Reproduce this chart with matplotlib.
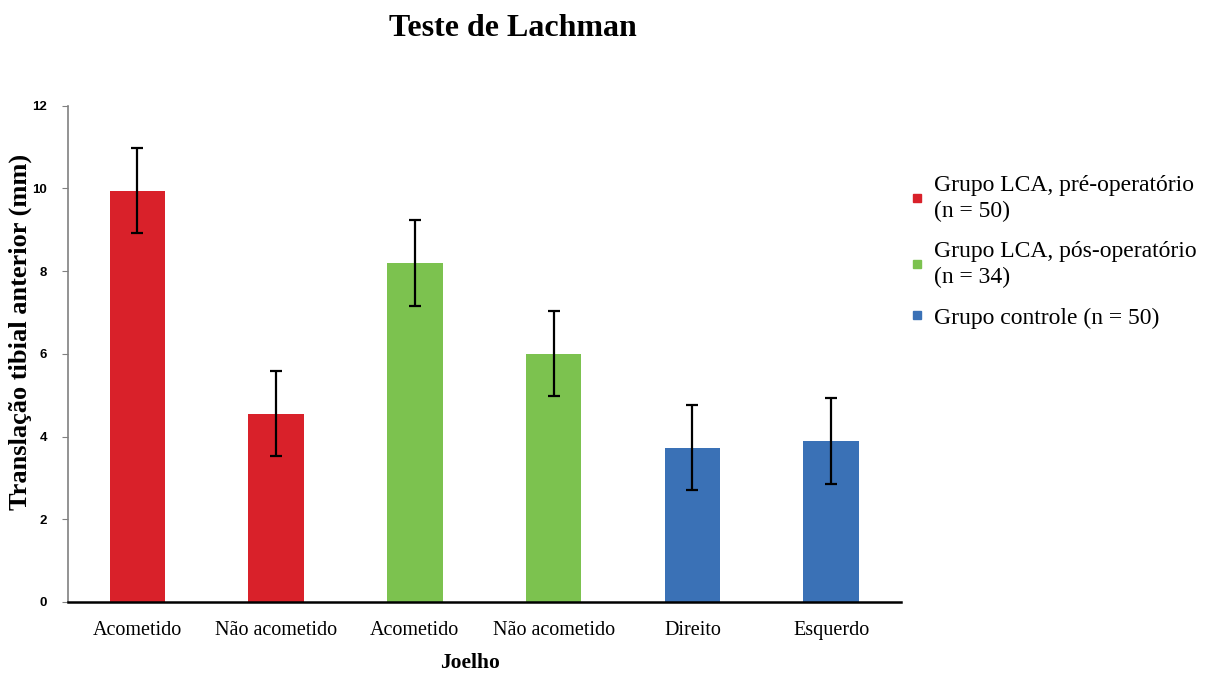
import matplotlib
matplotlib.use("Agg")
import matplotlib.pyplot as plt
from matplotlib.lines import Line2D

categories = ["Acometido", "Não acometido", "Acometido", "Não acometido", "Direito", "Esquerdo"]
values = [9.95, 4.55, 8.2, 6.0, 3.73, 3.9]
errors = [1.03, 1.03, 1.04, 1.03, 1.03, 1.04]
groups = ["Grupo LCA, pré-operatório\n(n = 50)",
          "Grupo LCA, pós-operatório\n(n = 34)",
          "Grupo controle (n = 50)"]
group_of_bar = [0, 0, 1, 1, 2, 2]
colors = ["#d9212a", "#7cc24f", "#3a71b6"]

serif = "Liberation Serif"

fig = plt.figure(figsize=(12.05, 6.74), dpi=100)
ax = fig.add_axes([0.0564, 0.107, 0.691, 0.736])

x = range(len(categories))
bar_colors = [colors[g] for g in group_of_bar]
ax.bar(x, values, width=0.4, color=bar_colors, zorder=2)
ax.errorbar(x, values, yerr=errors, fmt="none", ecolor="black",
            elinewidth=1.6, capsize=4, capthick=1.6, zorder=3)

ax.set_xlim(-0.5, 5.5)
ax.set_ylim(0, 12)
ax.set_yticks(range(0, 13, 2))
ax.set_xticks(list(x))
ax.set_xticklabels(categories, fontsize=14.5, family=serif)
ax.tick_params(axis="x", length=0, pad=14)
ax.tick_params(axis="y", length=4, color="#808080", pad=11)
for lab in ax.get_yticklabels():
    lab.set_fontweight("bold")
    lab.set_fontsize(9.5)
    lab.set_family("Liberation Sans")

for s in ["top", "right"]:
    ax.spines[s].set_visible(False)
ax.spines["left"].set_color("#808080")
ax.spines["left"].set_linewidth(1.2)
ax.spines["bottom"].set_color("black")
ax.spines["bottom"].set_linewidth(1.8)

# axis labels placed by hand so they stay inside the canvas
fig.text(0.0165, 0.507, "Translação tibial anterior (mm)", rotation=90,
         ha="center", va="center", fontsize=19, fontweight="bold", family=serif)
fig.text(0.39, 0.016, "Joelho", ha="center", va="center",
         fontsize=15.5, fontweight="bold", family=serif)

fig.text(0.426, 0.958, "Teste de Lachman", ha="center", va="center",
         fontsize=23, fontweight="bold", family=serif)

handles = [Line2D([], [], marker="s", linestyle="none", markersize=6,
                  color=c) for c in colors]
leg = fig.legend(handles, groups, loc="upper left", bbox_to_anchor=(0.749, 0.740),
                 frameon=False, prop={"family": serif, "size": 17},
                 handletextpad=0.15, labelspacing=0.8, handlelength=1.2,
                 borderpad=0, borderaxespad=0)
for t in leg.get_texts():
    t.set_linespacing(1.3)

fig.savefig("out.png", dpi=100)
